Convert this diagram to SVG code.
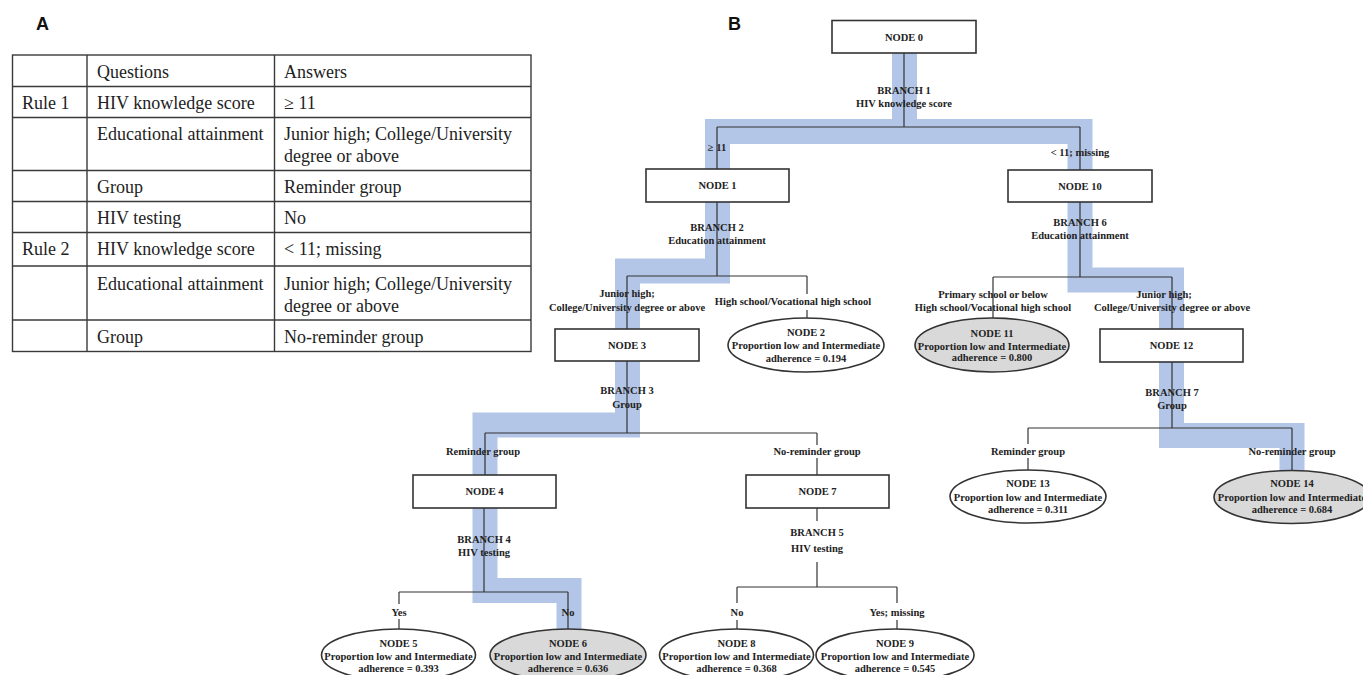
<svg xmlns="http://www.w3.org/2000/svg" width="1363" height="675" viewBox="0 0 1363 675">
<style>
.tbl{fill:none;stroke:#3a3a3a;stroke-width:1.4}
.tt{font-family:"Liberation Serif","Times New Roman",serif;font-size:18px;fill:#222}
.panel{font-family:"Liberation Sans",Arial,sans-serif;font-size:18px;font-weight:bold;fill:#111}
.band{fill:none;stroke:#b4c6e7;stroke-width:25;stroke-linejoin:miter}
.ln{stroke:#333;stroke-width:1.2;fill:none}
.box{fill:#fff;stroke:#333;stroke-width:1.6}
.leaf{fill:#fff;stroke:#333;stroke-width:1.6}
.leafg{fill:#d9d9d9;stroke:#333;stroke-width:1.6}
.t{font-family:"Liberation Serif","Times New Roman",serif;font-size:10.5px;font-weight:bold;fill:#222;text-anchor:middle}
</style>
<rect width="1363" height="675" fill="#fff"/>

<text class="panel" x="36" y="30">A</text>
<text class="panel" x="728" y="30">B</text>

<g id="table">
<rect class="tbl" x="12.5" y="55" width="518.5" height="296.5"/>
<line class="tbl" x1="87" y1="55" x2="87" y2="351.5"/>
<line class="tbl" x1="274.5" y1="55" x2="274.5" y2="351.5"/>
<line class="tbl" x1="12.5" y1="86.5" x2="531" y2="86.5"/>
<line class="tbl" x1="12.5" y1="117.5" x2="531" y2="117.5"/>
<line class="tbl" x1="12.5" y1="170.5" x2="531" y2="170.5"/>
<line class="tbl" x1="12.5" y1="201.5" x2="531" y2="201.5"/>
<line class="tbl" x1="12.5" y1="232.5" x2="531" y2="232.5"/>
<line class="tbl" x1="12.5" y1="266" x2="531" y2="266"/>
<line class="tbl" x1="12.5" y1="320" x2="531" y2="320"/>
<text class="tt" x="97" y="78">Questions</text>
<text class="tt" x="284" y="78">Answers</text>
<text class="tt" x="22" y="109">Rule 1</text>
<text class="tt" x="97" y="109">HIV knowledge score</text>
<text class="tt" x="284" y="109">≥ 11</text>
<text class="tt" x="97" y="140">Educational attainment</text>
<text class="tt" x="284" y="140">Junior high; College/University</text>
<text class="tt" x="284" y="162">degree or above</text>
<text class="tt" x="97" y="193">Group</text>
<text class="tt" x="284" y="193">Reminder group</text>
<text class="tt" x="97" y="224">HIV testing</text>
<text class="tt" x="284" y="224">No</text>
<text class="tt" x="22" y="255">Rule 2</text>
<text class="tt" x="97" y="255">HIV knowledge score</text>
<text class="tt" x="284" y="255">&lt; 11; missing</text>
<text class="tt" x="97" y="290">Educational attainment</text>
<text class="tt" x="284" y="290">Junior high; College/University</text>
<text class="tt" x="284" y="312">degree or above</text>
<text class="tt" x="97" y="343">Group</text>
<text class="tt" x="284" y="343">No-reminder group</text>
</g>

<g id="highlight">
<polyline class="band" points="904.5,53 904.5,131.5 717.5,131.5 717.5,271 627.5,271 627.5,425 485,425 485,590.5 569,590.5 569,629"/>
<polyline class="band" points="904.5,131.5 1080,131.5 1080,280 1171.5,280 1171.5,435.5 1292,435.5 1292,471"/>
</g>

<g id="connectors">
<line class="ln" x1="904" y1="53" x2="904" y2="127"/>
<line class="ln" x1="717" y1="127" x2="1080" y2="127"/>
<line class="ln" x1="717" y1="127" x2="717" y2="169"/>
<line class="ln" x1="1080" y1="127" x2="1080" y2="170"/>
<line class="ln" x1="717" y1="202" x2="717" y2="276"/>
<line class="ln" x1="627" y1="276" x2="807" y2="276"/>
<line class="ln" x1="627" y1="276" x2="627" y2="329"/>
<line class="ln" x1="807" y1="276" x2="807" y2="294"/>
<line class="ln" x1="807" y1="310" x2="807" y2="318"/>
<line class="ln" x1="627" y1="361" x2="627" y2="433"/>
<line class="ln" x1="485" y1="433" x2="817" y2="433"/>
<line class="ln" x1="485" y1="433" x2="485" y2="475"/>
<line class="ln" x1="817" y1="433" x2="817" y2="445"/>
<line class="ln" x1="817" y1="458" x2="817" y2="475"/>
<line class="ln" x1="484" y1="508" x2="484" y2="592"/>
<line class="ln" x1="399" y1="592" x2="568" y2="592"/>
<line class="ln" x1="399" y1="592" x2="399" y2="604"/>
<line class="ln" x1="399" y1="619" x2="399" y2="629"/>
<line class="ln" x1="568" y1="592" x2="568" y2="629"/>
<line class="ln" x1="817" y1="508" x2="817" y2="521"/>
<line class="ln" x1="817" y1="562" x2="817" y2="587"/>
<line class="ln" x1="737" y1="587" x2="897" y2="587"/>
<line class="ln" x1="737" y1="587" x2="737" y2="603"/>
<line class="ln" x1="737" y1="620" x2="737" y2="629"/>
<line class="ln" x1="897" y1="587" x2="897" y2="603"/>
<line class="ln" x1="897" y1="620" x2="897" y2="629"/>
<line class="ln" x1="1080" y1="202" x2="1080" y2="277"/>
<line class="ln" x1="993" y1="277" x2="1172" y2="277"/>
<line class="ln" x1="993" y1="277" x2="993" y2="318"/>
<line class="ln" x1="1172" y1="277" x2="1172" y2="329"/>
<line class="ln" x1="1172" y1="362" x2="1172" y2="428"/>
<line class="ln" x1="1028" y1="428" x2="1292" y2="428"/>
<line class="ln" x1="1028" y1="428" x2="1028" y2="444"/>
<line class="ln" x1="1028" y1="458" x2="1028" y2="470"/>
<line class="ln" x1="1292" y1="428" x2="1292" y2="471"/>
</g>

<g id="edge-labels">
<text class="t" x="904" y="94">BRANCH 1</text>
<text class="t" x="904" y="107">HIV knowledge score</text>
<text class="t" x="717" y="151">≥ 11</text>
<text class="t" x="1080" y="156">&lt; 11; missing</text>
<text class="t" x="717" y="231">BRANCH 2</text>
<text class="t" x="717" y="244">Education attainment</text>
<text class="t" x="627" y="297">Junior high;</text>
<text class="t" x="627" y="311">College/University degree or above</text>
<text class="t" x="793" y="305">High school/Vocational high school</text>
<text class="t" x="627" y="394">BRANCH 3</text>
<text class="t" x="627" y="408">Group</text>
<text class="t" x="483" y="455">Reminder group</text>
<text class="t" x="817" y="455">No-reminder group</text>
<text class="t" x="484" y="543">BRANCH 4</text>
<text class="t" x="484" y="556">HIV testing</text>
<text class="t" x="399" y="616">Yes</text>
<text class="t" x="568" y="616">No</text>
<text class="t" x="817" y="536">BRANCH 5</text>
<text class="t" x="817" y="552">HIV testing</text>
<text class="t" x="737" y="616">No</text>
<text class="t" x="897" y="616">Yes; missing</text>
<text class="t" x="1080" y="226">BRANCH 6</text>
<text class="t" x="1080" y="239">Education attainment</text>
<text class="t" x="993" y="298">Primary school or below</text>
<text class="t" x="993" y="311">High school/Vocational high school</text>
<text class="t" x="1164" y="298">Junior high;</text>
<text class="t" x="1172" y="311">College/University degree or above</text>
<text class="t" x="1172" y="396">BRANCH 7</text>
<text class="t" x="1172" y="409">Group</text>
<text class="t" x="1028" y="455">Reminder group</text>
<text class="t" x="1292" y="455">No-reminder group</text>
</g>

<g id="node0"><rect class="box" x="832" y="20.5" width="144" height="32.5"/><text class="t" x="904" y="40.5">NODE 0</text></g>
<g id="node1"><rect class="box" x="646" y="169" width="143" height="33"/><text class="t" x="717.5" y="189">NODE 1</text></g>
<g id="node10"><rect class="box" x="1008" y="170" width="144" height="32"/><text class="t" x="1080" y="189.5">NODE 10</text></g>
<g id="node3"><rect class="box" x="555" y="329" width="144" height="32"/><text class="t" x="627" y="348.5">NODE 3</text></g>
<g id="node12"><rect class="box" x="1100" y="329" width="143" height="33"/><text class="t" x="1171.5" y="349">NODE 12</text></g>
<g id="node4"><rect class="box" x="413" y="475" width="143" height="33"/><text class="t" x="484.5" y="495">NODE 4</text></g>
<g id="node7"><rect class="box" x="746" y="475" width="143" height="33"/><text class="t" x="817.5" y="495">NODE 7</text></g>

<g id="node2"><ellipse class="leaf" cx="806" cy="345" rx="78" ry="27"/><text class="t" x="806" y="336">NODE 2</text><text class="t" x="806" y="349">Proportion low and Intermediate</text><text class="t" x="806" y="362">adherence = 0.194</text></g>
<g id="node11"><ellipse class="leafg" cx="992" cy="345" rx="77" ry="27"/><text class="t" x="992" y="337">NODE 11</text><text class="t" x="992" y="350">Proportion low and Intermediate</text><text class="t" x="992" y="361">adherence = 0.800</text></g>
<g id="node13"><ellipse class="leaf" cx="1028" cy="496.5" rx="78" ry="26.5"/><text class="t" x="1028" y="487">NODE 13</text><text class="t" x="1028" y="501">Proportion low and Intermediate</text><text class="t" x="1028" y="513">adherence = 0.311</text></g>
<g id="node14"><ellipse class="leafg" cx="1292" cy="497" rx="78" ry="26.5"/><text class="t" x="1292" y="487">NODE 14</text><text class="t" x="1292" y="501">Proportion low and Intermediate</text><text class="t" x="1292" y="513">adherence = 0.684</text></g>
<g id="node5"><ellipse class="leaf" cx="398.5" cy="655" rx="77" ry="26"/><text class="t" x="398.5" y="647">NODE 5</text><text class="t" x="398.5" y="660">Proportion low and Intermediate</text><text class="t" x="398.5" y="672">adherence = 0.393</text></g>
<g id="node6"><ellipse class="leafg" cx="568" cy="655" rx="78" ry="26"/><text class="t" x="568" y="647">NODE 6</text><text class="t" x="568" y="660">Proportion low and Intermediate</text><text class="t" x="568" y="672">adherence = 0.636</text></g>
<g id="node8"><ellipse class="leaf" cx="736.5" cy="655" rx="77" ry="26"/><text class="t" x="736.5" y="647">NODE 8</text><text class="t" x="736.5" y="660">Proportion low and Intermediate</text><text class="t" x="736.5" y="672">adherence = 0.368</text></g>
<g id="node9"><ellipse class="leaf" cx="895" cy="655" rx="79" ry="26"/><text class="t" x="895" y="647">NODE 9</text><text class="t" x="895" y="660">Proportion low and Intermediate</text><text class="t" x="895" y="672">adherence = 0.545</text></g>
</svg>
